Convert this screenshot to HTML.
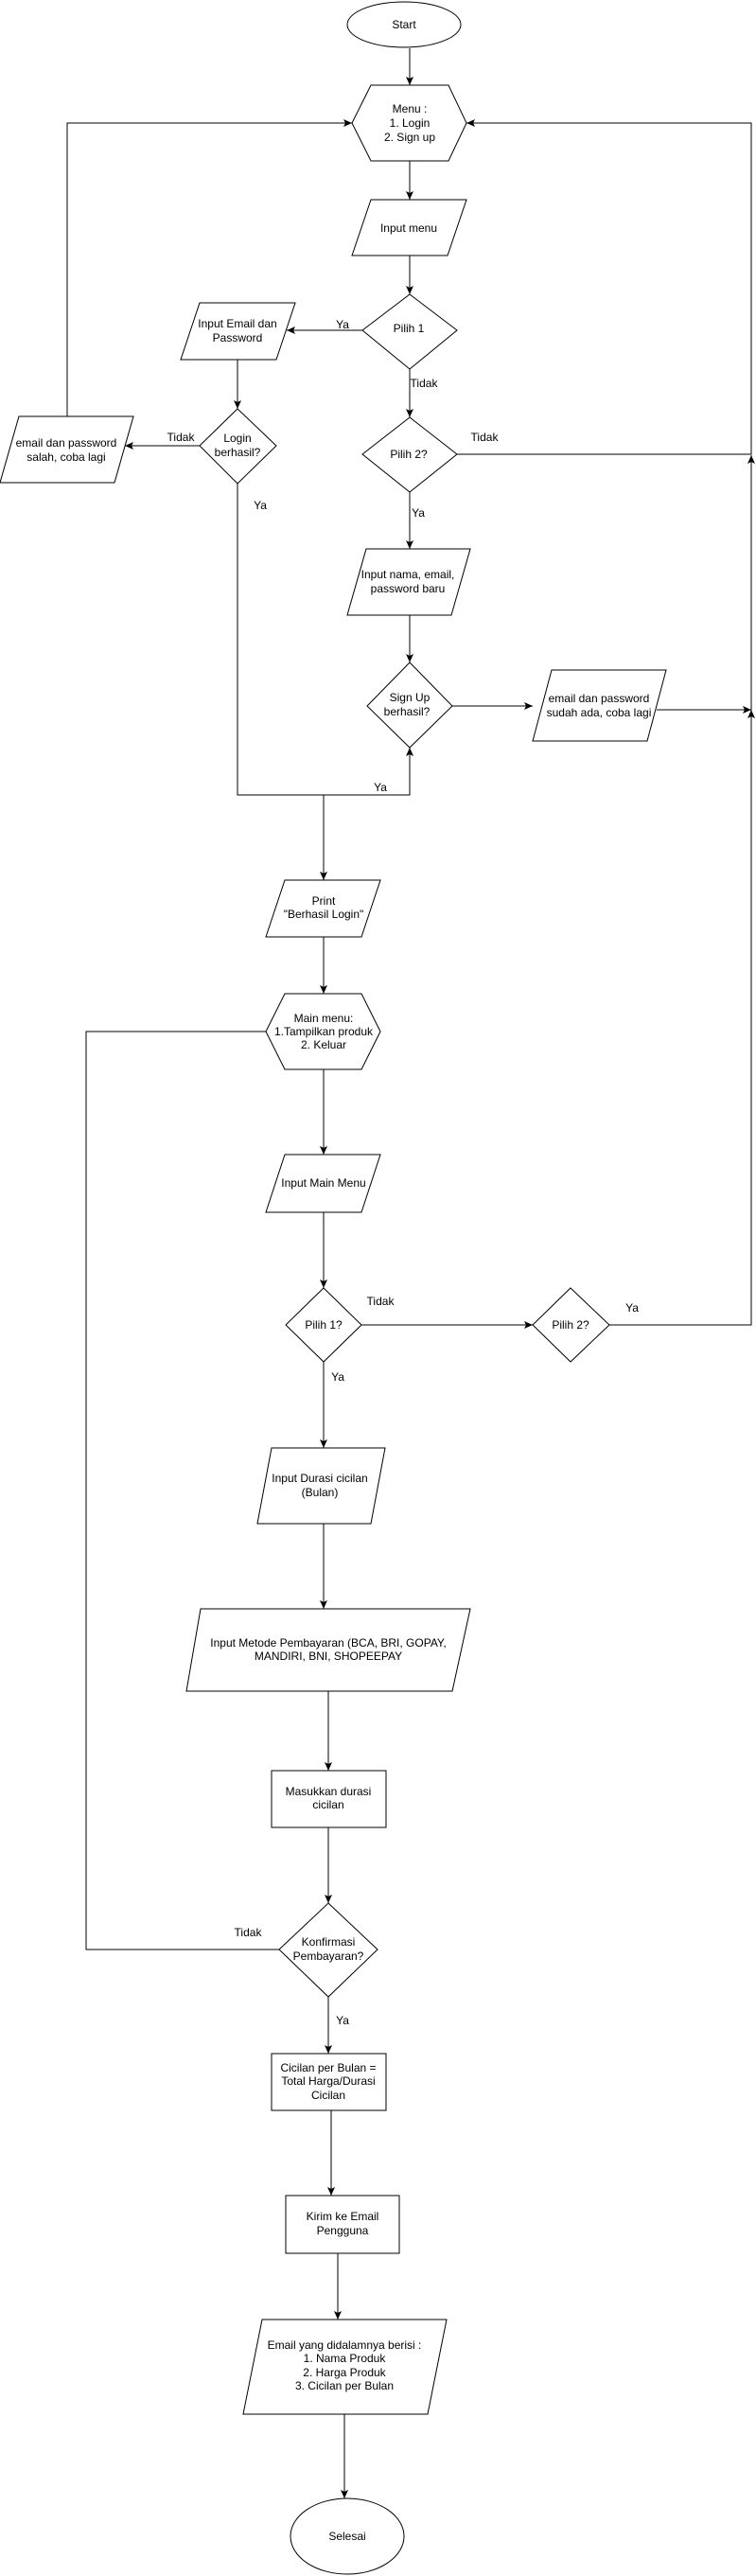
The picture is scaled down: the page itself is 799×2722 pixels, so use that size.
<!DOCTYPE html>
<html><head><meta charset="utf-8"><style>
html,body{margin:0;padding:0;background:#fff;}
svg{display:block;}
text{font-family:"Liberation Sans",Arial,sans-serif;font-size:12px;fill:#000;text-anchor:middle;}
</style></head><body>
<svg width="799" height="2722" viewBox="0 0 799 2722" xmlns="http://www.w3.org/2000/svg">
<defs><marker id="a" markerWidth="10" markerHeight="10" refX="9" refY="5" orient="auto" markerUnits="userSpaceOnUse"><path d="M0,1 L9,5 L0,9 L2,5 Z" fill="#000"/></marker></defs>
<g fill="#fff" stroke="#000" stroke-width="1">
<ellipse cx="427" cy="26" rx="60" ry="24"/>
<polygon points="392,90 474,90 493,130 474,170 392,170 372,130"/>
<polygon points="392,211 493,211 473,270 372,270"/>
<polygon points="433,311 483,349 433,390 383,349"/>
<polygon points="211,320 312,320 292,380 191,380"/>
<polygon points="251,432 292,471 251,511 211,471"/>
<polygon points="20,440 141,440 121,510 0,510"/>
<polygon points="433,441 483,480 433,520 383,480"/>
<polygon points="387,580 497,580 477,650 367,650"/>
<polygon points="433,700 478,746 433,790 388,746"/>
<polygon points="583,708 704,708 684,783 563,783"/>
<polygon points="301,930 402,930 382,990 281,990"/>
<polygon points="301,1050 382,1050 402,1090 382,1130 301,1130 281,1090"/>
<polygon points="301,1220 402,1220 382,1281 281,1281"/>
<polygon points="342,1361 382,1400 342,1439 302,1400"/>
<polygon points="603,1361 644,1400 603,1439 563,1400"/>
<polygon points="287,1530 407,1530 392,1610 272,1610"/>
<polygon points="212,1700 497,1700 478,1787 197,1787"/>
<rect x="287" y="1871" width="121" height="60"/>
<polygon points="347,2011 399,2060 347,2110 295,2060"/>
<rect x="287" y="2170" width="121" height="60"/>
<rect x="302" y="2320" width="120" height="61"/>
<polygon points="277,2451 472,2451 452,2551 257,2551"/>
<ellipse cx="367" cy="2680" rx="60" ry="40"/>
</g>
<g fill="none" stroke="#000" stroke-width="1" marker-end="url(#a)">
<path d="M433,51 V90"/>
<path d="M433,170 V211"/>
<path d="M433,270 V311"/>
<path d="M383,349 H303"/>
<path d="M251,380 V432"/>
<path d="M211,471 H132"/>
<path d="M71,440 V130 H372"/>
<path d="M433,390 V441"/>
<path d="M483,480 H794 V130 H493"/>
<path d="M433,520 V580"/>
<path d="M433,650 V700"/>
<path d="M478,746 H563"/>
<path d="M694,750 H794"/>
<path d="M251,511 V840 H433 V790"/>
<path d="M342,840 V930"/>
<path d="M342,990 V1050"/>
<path d="M342,1130 V1220"/>
<path d="M342,1281 V1361"/>
<path d="M382,1400 H563"/>
<path d="M644,1400 H794 V481"/>
<path d="M794,762 V750"/>
<path d="M342,1439 V1530"/>
<path d="M342,1610 V1700"/>
<path d="M347,1787 V1871"/>
<path d="M347,1931 V2011"/>
<path d="M347,2110 V2170"/>
<path d="M350,2230 V2320"/>
<path d="M357,2381 V2451"/>
<path d="M364,2551 V2640"/>
</g>
<path d="M295,2060 H91 V1090 H281" fill="none" stroke="#000"/>
<text x="427" y="30">Start</text>
<text x="433" y="119">Menu :</text><text x="433" y="134">1. Login</text><text x="433" y="149">2. Sign up</text>
<text x="432" y="245">Input menu</text>
<text x="432" y="351">Pilih 1</text>
<text x="251" y="346">Input Email dan</text><text x="251" y="361">Password</text>
<text x="251" y="467">Login</text><text x="251" y="482">berhasil?</text>
<text x="70" y="472">email dan password</text><text x="70" y="487">salah, coba lagi</text>
<text x="432" y="484">Pilih 2?</text>
<text x="431" y="611">Input nama, email,</text><text x="431" y="626">password baru</text>
<text x="433" y="741">Sign Up</text><text x="430" y="756">berhasil?</text>
<text x="633" y="742">email dan password</text><text x="633" y="757">sudah ada, coba lagi</text>
<text x="362" y="347">Ya</text><text x="448" y="409">Tidak</text><text x="191" y="466">Tidak</text>
<text x="275" y="538">Ya</text><text x="512" y="466">Tidak</text><text x="442" y="546">Ya</text><text x="402" y="836">Ya</text>
<text x="342" y="956">Print</text><text x="342" y="970">"Berhasil Login"</text>
<text x="342" y="1080">Main menu:</text><text x="342" y="1094">1.Tampilkan produk</text><text x="342" y="1108">2. Keluar</text>
<text x="342" y="1254">Input Main Menu</text>
<text x="342" y="1404">Pilih 1?</text><text x="603" y="1404">Pilih 2?</text>
<text x="402" y="1379">Tidak</text><text x="668" y="1386">Ya</text><text x="357" y="1459">Ya</text>
<text x="338" y="1566">Input Durasi cicilan</text><text x="338" y="1581">(Bulan)</text>
<text x="347" y="1740">Input Metode Pembayaran (BCA, BRI, GOPAY,</text><text x="347" y="1754">MANDIRI, BNI, SHOPEEPAY</text>
<text x="347" y="1897">Masukkan durasi</text><text x="347" y="1911">cicilan</text>
<text x="347" y="2056">Konfirmasi</text><text x="347" y="2071">Pembayaran?</text>
<text x="262" y="2046">Tidak</text><text x="362" y="2139">Ya</text>
<text x="347" y="2189">Cicilan per Bulan =</text><text x="347" y="2203">Total Harga/Durasi</text><text x="347" y="2218">Cicilan</text>
<text x="362" y="2346">Kirim ke Email</text><text x="362" y="2361">Pengguna</text>
<text x="364" y="2482">Email yang didalamnya berisi :</text><text x="364" y="2496">1. Nama Produk</text><text x="364" y="2511">2. Harga Produk</text><text x="364" y="2525">3. Cicilan per Bulan</text>
<text x="367" y="2684">Selesai</text>
</svg>
</body></html>
